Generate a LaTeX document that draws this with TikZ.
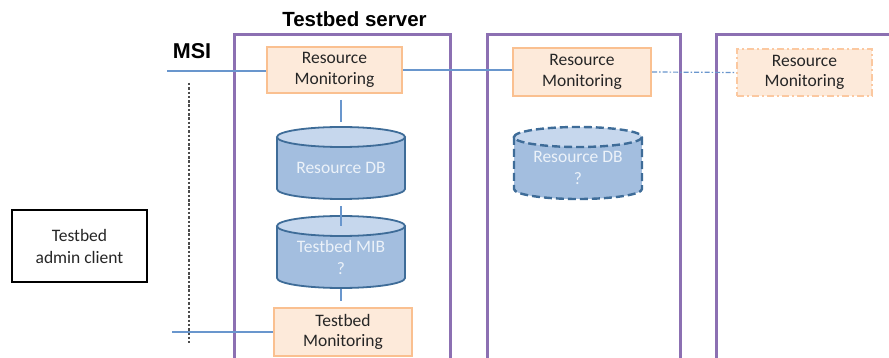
\documentclass[tikz,border=0pt]{standalone}
\usepackage{fontspec}
\setmainfont{Carlito}
\newfontfamily\headfont{Liberation Sans}

\definecolor{frame}{RGB}{140,112,178}
\definecolor{peach}{RGB}{253,234,218}
\definecolor{peachline}{RGB}{250,192,144}
\definecolor{peachdash}{RGB}{251,200,160}
\definecolor{linkblue}{RGB}{105,150,205}
\definecolor{drumbody}{RGB}{163,190,223}
\definecolor{drumtop}{RGB}{198,215,237}
\definecolor{drumline}{RGB}{62,108,152}
\definecolor{drumtext}{RGB}{236,242,249}
\definecolor{labeltext}{RGB}{38,38,38}

\tikzset{
  x=1pt, y=-1pt,
  container/.style={draw=frame, line width=2.8pt, minimum height=360pt, inner sep=0pt, anchor=north west},
  monbox/.style={draw=peachline, fill=peach, line width=2pt, inner sep=0pt, align=center,
                 text=labeltext, font=\fontsize{17.5}{20.5}\selectfont},
  monghost/.style={monbox, draw=peachdash, dash pattern=on 7pt off 3pt on 2pt off 3pt},
  clientbox/.style={draw=black, line width=2pt, inner sep=0pt, align=center,
                 text=labeltext, font=\fontsize{17.5}{22}\selectfont},
  link/.style={draw=linkblue, line width=1.2pt},
  ghostlink/.style={link, dash pattern=on 5pt off 2pt on 1.5pt off 2pt},
  guide/.style={draw=black!70, line width=1.1pt, dash pattern=on 2.5pt off 1.8pt},
  drumframe/.style={minimum width=128pt, minimum height=72pt, inner sep=0pt},
  drumline/.style={draw=drumline, line width=1.8pt},
  drumghost/.style={drumline, line width=2.4pt, dash pattern=on 8pt off 4pt},
  drumtext/.style={text=drumtext, align=center, font=\fontsize{17.5}{22}\selectfont},
}

% Database drum: #1 name, #2 centre x, #3 top y, #4 outline style, #5 text
\newcommand\dbdrum[5]{%
  \fill[drumbody] (#2-64,#3+10) rectangle (#2+64,#3+62);
  \fill[drumbody] (#2,#3+62) ellipse [x radius=64, y radius=10];
  \fill[drumtop] (#2,#3+10) ellipse [x radius=64, y radius=10];
  \draw[#4] (#2-64,#3+10) -- (#2-64,#3+62)
      arc [start angle=180, end angle=0, x radius=64, y radius=10] -- (#2+64,#3+10);
  \draw[#4] (#2,#3+10) ellipse [x radius=64, y radius=10];
  \node[drumframe] (#1) at (#2,#3+36) {};
  \node[drumtext] at ([yshift=-5pt]#1.center) {#5};
}

\begin{document}
\begin{tikzpicture}
\useasboundingbox (0,0) rectangle (889,358);
\clip (0,0) rectangle (889,358);
\fill[white] (0,0) rectangle (889,358);

% server frames
\node[container, minimum width=216pt] (server) at (233,33) {};
\node[container, minimum width=193pt] (peer) at (486,33) {};
\node[container, minimum width=200pt] (remote) at (715,33) {};

% titles
\node[font=\headfont\bfseries\fontsize{20.5}{24}\selectfont] (title) at (354.5,19) {Testbed server};
\node[font=\headfont\bfseries\fontsize{21.5}{24}\selectfont] (msi) at (192,51) {MSI};

% monitoring boxes
\node[monbox, minimum width=135pt, minimum height=46pt] (rm1) at (334.5,70) {Resource\\Monitoring};
\node[monbox, minimum width=138pt, minimum height=48pt] (rm2) at (582,72) {Resource\\Monitoring};
\node[monghost, minimum width=135pt, minimum height=47pt] (rm3) at (804.5,72.5) {Resource\\Monitoring};
\node[monbox, minimum width=138pt, minimum height=48pt] (tm) at (343,332) {Testbed\\Monitoring};

% admin client
\node[clientbox, minimum width=135pt, minimum height=72pt] (admin) at (79.5,246) {Testbed\\admin client};

% databases
\dbdrum{rdb}{341}{127}{drumline}{Resource DB}
\dbdrum{mib}{341}{216}{drumline}{Testbed MIB\\?}
\dbdrum{rdbq}{578}{127}{drumghost}{Resource DB\\?}

% connectors
\coordinate (msiend) at (167,71);
\coordinate (tmend) at (172,332);
\coordinate (guidetop) at (189,83);
\coordinate (guidebot) at (189,343);

\draw[guide] (guidetop) -- (guidebot);
\draw[link] (msiend) -- (rm1.west |- msiend);
\draw[link] (rm1.east) -- (rm2.west |- rm1.east);
\draw[ghostlink] (rm2.east) -- (rm3.west);
\draw[link, shorten <=6pt, shorten >=5pt] (rdb.north |- rm1.south) -- (rdb.north);
\draw[link, shorten <=7pt, shorten >=-10pt] (rdb.south) -- (mib.north);
\draw[link, shorten <=1pt, shorten >=6pt] (mib.south) -- (tm.north -| mib.south);
\draw[link] (tmend) -- (tm.west);
\end{tikzpicture}
\end{document}
